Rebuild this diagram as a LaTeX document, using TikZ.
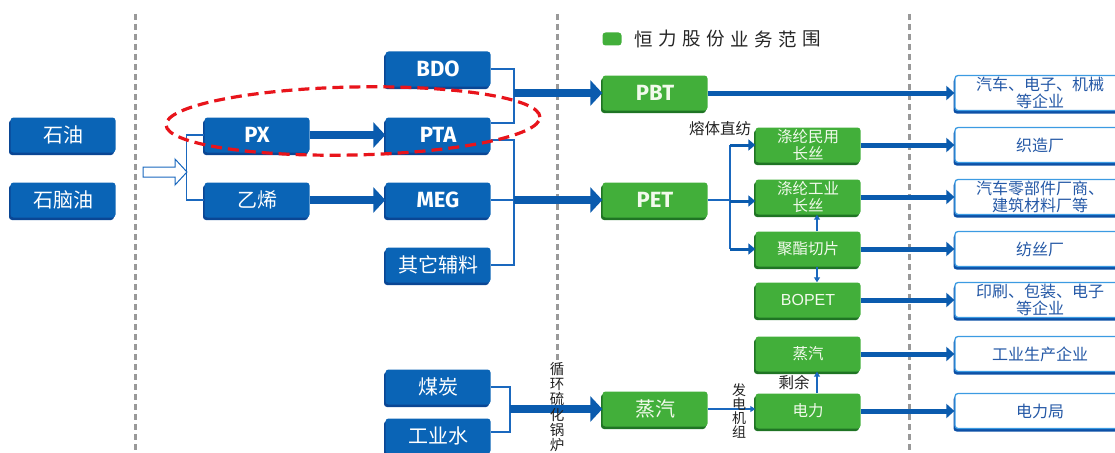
\documentclass[tikz,border=0pt]{standalone}
\usepackage{fontspec}
\setmainfont{Noto Sans CJK SC}
\newfontfamily\latb{Fira Sans}
\newfontfamily\arialf{Liberation Sans}
\usetikzlibrary{arrows.meta,shadows}
\definecolor{bluefill}{HTML}{0A64B6}
\definecolor{blueshadow}{HTML}{0A4694}
\definecolor{greenfill}{HTML}{42AF3A}
\definecolor{greenshadow}{HTML}{1F7424}
\definecolor{greentext}{HTML}{F2FAEC}
\definecolor{arrowblue}{HTML}{0A5BAE}
\definecolor{linkblue}{HTML}{1A68BE}
\definecolor{rtext}{HTML}{2458A6}
\definecolor{rborder}{HTML}{3C9BE2}
\definecolor{rshadow}{HTML}{0D50A6}
\definecolor{gline}{HTML}{999999}
\definecolor{redline}{HTML}{E8141B}
\definecolor{lbltext}{HTML}{222222}
\begin{document}
\begin{tikzpicture}[x=1pt,y=-1pt,
  bbox/.style={rectangle, rounded corners=3pt, minimum width=105pt, minimum height=35pt, inner sep=0pt,
    fill=bluefill, text=white, font=\fontsize{20}{21}\selectfont,
    general shadow={fill=blueshadow, shadow xshift=-1.5pt, shadow yshift=-2.5pt}},
  latin/.style={font=\latb\bfseries\fontsize{22}{24}\selectfont},
  gbox/.style={rectangle, rounded corners=3pt, minimum width=105pt, minimum height=35pt, inner sep=0pt,
    fill=greenfill, text=greentext, align=center, font=\fontsize{15.5}{16.5}\selectfont,
    general shadow={fill=greenshadow, shadow xshift=-1.5pt, shadow yshift=-2.5pt}},
  rbox/.style={rectangle, rounded corners=3pt, minimum width=170pt, minimum height=35pt, inner sep=0pt,
    fill=white, draw=rborder, line width=1.3pt, text=rtext, align=center, font=\fontsize{16}{16.5}\selectfont,
    general shadow={fill=rshadow, draw=none, shadow xshift=-1.5pt, shadow yshift=-3pt}},
  lbl/.style={inner sep=0pt, text=lbltext, font=\fontsize{15.5}{16}\selectfont},
  vlbl/.style={inner sep=0pt, text=lbltext, align=center, font=\fontsize{14}{14}\selectfont},
  vlbl2/.style={inner sep=0pt, text=lbltext, align=center, font=\fontsize{14.5}{15.2}\selectfont},
  gdash/.style={draw=gline, line width=3pt, dash pattern=on 6pt off 4pt},
  ln/.style={draw=linkblue, line width=1.6pt},
  thk/.style={draw=arrowblue, line width=8pt, -{Triangle[length=12pt,width=25pt]}},
  med/.style={draw=arrowblue, line width=5pt, -{Triangle[length=8pt,width=14pt]}},
  sml/.style={draw=arrowblue, line width=3pt, -{Triangle[length=7pt,width=11pt]}},
  tny/.style={draw=linkblue, line width=1.2pt, -{Triangle[length=5pt,width=6pt]}}
]
\useasboundingbox (0,0) rectangle (1115,452);
\clip (0,0) rectangle (1115,452);

% dashed separators
\draw[gdash] (135,14) -- (135,452);
\draw[gdash] (557,14) -- (557,364);
\draw[gdash] (909,14) -- (909,452);

% legend
\node[fill=greenfill, rounded corners=3pt, minimum width=19pt, minimum height=13pt, inner sep=0pt] (lg) at (612,39) {};
\foreach \c [count=\i from 0] in {恒,力,股,份,业,务,范,围}
  \node[inner sep=0pt, text=black!85, font=\fontsize{18.5}{19}\selectfont] (lg\i) at (644+\i*23.9,39) {\c};

% blue boxes
\node[bbox] (sy) at (63,135) {石油};
\node[bbox] (sny) at (63,200) {石脑油};
\node[bbox, latin] (px) at (257,135) {PX};
\node[bbox] (yx) at (257,200) {乙烯};
\node[bbox, latin] (bdo) at (438,69) {BDO};
\node[bbox, latin] (pta) at (438,135) {PTA};
\node[bbox, latin] (meg) at (438,200) {MEG};
\node[bbox] (qt) at (438,265) {其它辅料};
\node[bbox] (mt) at (438,387) {煤炭};
\node[bbox] (gs) at (438,436) {工业水};

% green boxes
\node[gbox, latin] (pbt) at (655,93) {PBT};
\node[gbox, latin] (pet) at (655,200) {PET};
\node[gbox, font=\fontsize{20}{21}\selectfont] (zq1) at (655,409) {蒸汽};
\node[gbox] (my) at (808,145) {涤纶民用\\长丝};
\node[gbox] (gy) at (808,197) {涤纶工业\\长丝};
\node[gbox] (qp) at (808,249) {聚酯切片};
\node[gbox, font=\arialf\fontsize{16}{17}\selectfont] (bo) at (808,300) {BOPET};
\node[gbox] (zq2) at (808,354) {蒸汽};
\node[gbox] (dl) at (808,411) {电力};

% right boxes
\node[rbox] (r1) at (1040,93) {汽车、电子、机械\\等企业};
\node[rbox] (r2) at (1040,145) {织造厂};
\node[rbox] (r3) at (1040,197) {汽车零部件厂商、\\建筑材料厂等};
\node[rbox] (r4) at (1040,249) {纺丝厂};
\node[rbox] (r5) at (1040,300) {印刷、包装、电子\\等企业};
\node[rbox] (r6) at (1040,354) {工业生产企业};
\node[rbox] (r7) at (1040,411) {电力局};

% hollow input arrow
\draw[draw=linkblue, line width=1pt, fill=white] (143,167) -- (175,167) -- (175,159) -- (187,172) -- (175,185) -- (175,177) -- (143,177) -- cycle;
% bracket to PX / ethylene
\draw[ln] (px.west) -- ++(-18,0) |- (yx.west);
\draw[thk] (px) -- (pta);
\draw[thk] (yx) -- (meg);

% BDO + PTA -> PBT
\coordinate (j1) at (514,93);
\draw[ln] (bdo.east) -| (j1) |- ([yshift=12pt]pta.east);
\draw[thk] (j1) -- (pbt);

% PTA + MEG + others -> PET
\coordinate (j2) at (514,200);
\draw[ln] ([yshift=-5pt]pta.east) -| (j2) |- (qt.east);
\draw[ln] (meg.east) -- (j2);
\draw[thk] (j2) -- (pet);

% PBT -> customers
\draw[med] (pbt) -- (r1);

% PET split
\coordinate (sp) at (730,201);
\draw[ln] (pet.east) -- (pet.east -| sp);
\draw[ln] (sp |- my) -- (sp |- qp);
\draw[sml] (sp |- my) -- (my.west);
\draw[sml] (sp) -- (gy.west |- sp);
\draw[sml] (sp |- qp) -- (qp.west);
\draw[tny] ([xshift=9pt]qp.north) -- ([xshift=9pt]gy.south);
\draw[tny] ([xshift=9pt]qp.south) -- ([xshift=9pt]bo.north);
\draw[tny] ([xshift=9pt]dl.north) -- ([xshift=9pt]zq2.south);

% green -> customers
\draw[med] (my) -- (r2);
\draw[med] (gy) -- (r3);
\draw[med] (qp) -- (r4);
\draw[med] (bo) -- (r5);
\draw[med] (zq2) -- (r6);
\draw[med] (dl) -- (r7);

% coal + water -> steam
\coordinate (j3) at (510,409);
\draw[ln] (mt.east) -| (j3) |- ([yshift=4pt]gs.east);
\draw[thk] (j3) -- (zq1);
\draw[tny] (zq1.east) -- (dl.west |- zq1.east);

% labels
\node[lbl] (l1) at (720,129) {熔体直纺};
\node[lbl] (l2) at (794,383) {剩余};
\node[vlbl] (l3) at (739,411) {发\\电\\机\\组};
\node[vlbl2] (l4) at (557,407) {循\\环\\硫\\化\\锅\\炉};

% red dashed ellipse
\draw[draw=redline, line width=3.2pt, dash pattern=on 11pt off 6pt, rotate around={1.2:(353,121)}]
  (353,121) ellipse [x radius=187pt, y radius=34pt];
\end{tikzpicture}
\end{document}
